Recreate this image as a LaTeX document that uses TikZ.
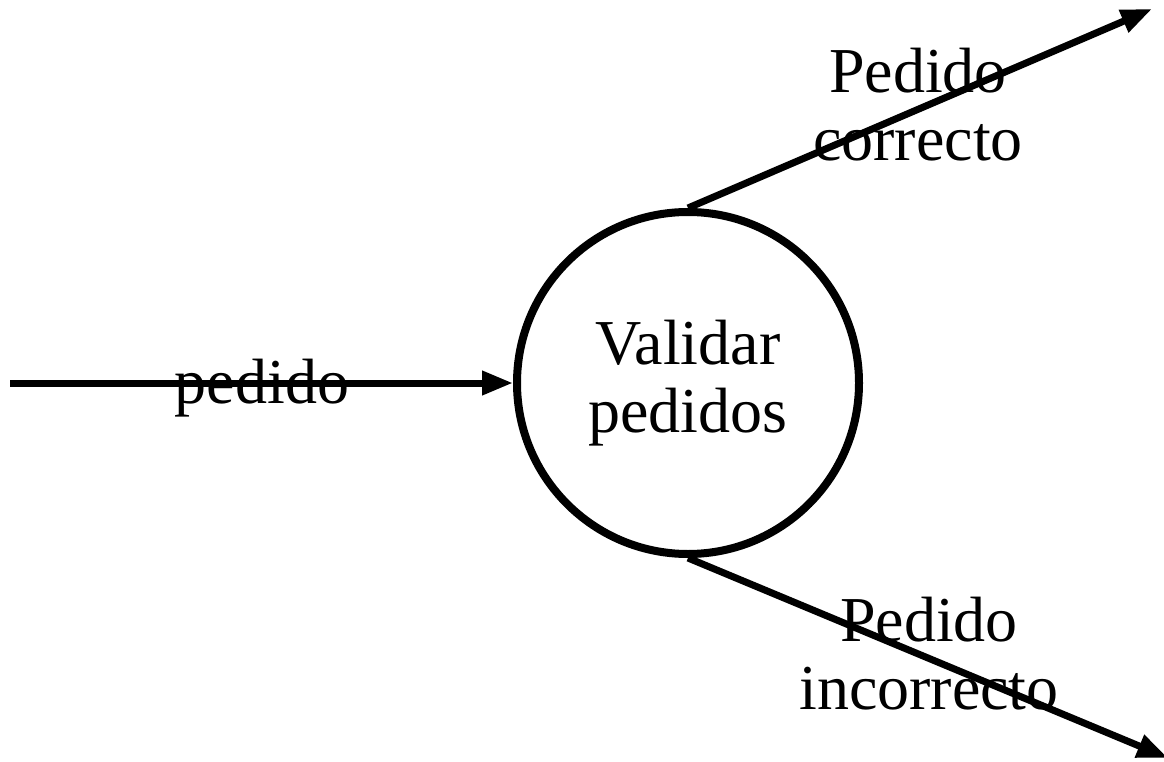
\documentclass[tikz,border=0pt]{standalone}
\usepackage{fontspec}
\setmainfont{Liberation Serif}
\usetikzlibrary{arrows.meta,positioning}
\tikzset{process state/.style={circle,draw=black,line width=8pt,minimum size=342pt,inner sep=0pt,align=center}}
\tikzset{flow label/.style={align=center,inner sep=0pt}}
\tikzset{flow/.style={-{Triangle[length=31pt,width=23pt]},line width=7pt}}

\begin{document}
\begin{tikzpicture}[x=1pt,y=-1pt,font=\fontsize{64}{68}\selectfont]
	\useasboundingbox (0,0) rectangle (1164,762);
	\node[process state] at (688,383) (validar) {Validar\\pedidos};
	\coordinate (src) at (10,383);
	\coordinate (ok) at (1152,9);
	\coordinate (bad) at (1168,758);
	\draw[flow] (src) -- (validar.west);
	\draw[flow] (validar.north) -- (ok);
	\draw[flow] (validar.south) -- (bad);
	\node[flow label, anchor=base] at (262,403) (l_in) {pedido};
	\node[flow label] at (918,105) (l_ok) {Pedido\\correcto};
	\node[flow label] at (929,654) (l_bad) {Pedido\\incorrecto};
\end{tikzpicture}
\end{document}
